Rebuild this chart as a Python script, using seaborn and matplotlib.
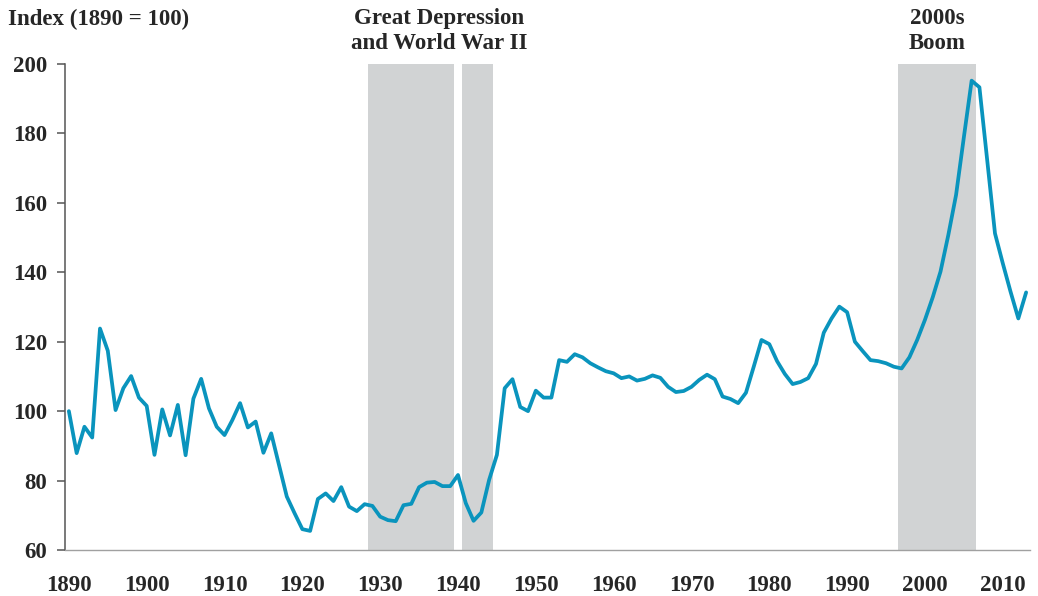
import numpy as np
import pandas as pd
import matplotlib
matplotlib.use("Agg")
import matplotlib.pyplot as plt
import seaborn as sns

years = list(range(1890, 2014))
index_values = [
    100.0, 87.9, 95.5, 92.4, 123.8, 117.4, 100.3, 106.6, 110.1, 103.9,   # 1890s
    101.5, 87.4, 100.5, 93.0, 101.8, 87.3, 103.6, 109.3, 100.8, 95.5,    # 1900s
    93.1, 97.4, 102.3, 95.3, 97.0, 88.0, 93.6, 84.5, 75.4, 70.6,         # 1910s
    66.0, 65.5, 74.7, 76.3, 74.1, 78.1, 72.5, 71.2, 73.2, 72.7,          # 1920s
    69.6, 68.6, 68.3, 72.9, 73.3, 78.1, 79.4, 79.6, 78.4, 78.4,          # 1930s
    81.6, 73.5, 68.4, 70.8, 80.2, 87.4, 106.6, 109.2, 101.2, 100.0,      # 1940s
    105.9, 103.9, 103.9, 114.7, 114.2, 116.4, 115.5, 113.8, 112.6, 111.5,  # 1950s
    110.9, 109.5, 110.0, 108.8, 109.3, 110.3, 109.6, 107.0, 105.5, 105.8,  # 1960s
    107.0, 109.0, 110.5, 109.2, 104.2, 103.5, 102.3, 105.3, 112.8, 120.5,  # 1970s
    119.3, 114.4, 110.7, 107.8, 108.4, 109.5, 113.6, 122.6, 126.7, 130.1,  # 1980s
    128.5, 120.0, 117.3, 114.7, 114.4, 113.8, 112.8, 112.3, 115.5, 120.5,  # 1990s
    126.3, 132.8, 140.2, 150.7, 162.3, 178.9, 195.2, 193.3, 172.3, 151.2,  # 2000s
    142.6, 134.4, 126.7, 134.2,                                          # 2010s
]

# shaded periods (start, end)
shade_periods = [(1928.5, 1939.5), (1940.5, 1944.5), (1996.5, 2006.5)]
shade_labels = ["Great Depression\nand World War II", "2000s\nBoom"]
label_x = [1937.6, 2001.6]

y_ticks = [60, 80, 100, 120, 140, 160, 180, 200]
x_labels = list(range(1890, 2011, 10))

df = pd.DataFrame({"year": years, "index": index_values})

sns.set_style("white")
plt.rcParams["font.family"] = ["Liberation Serif", "DejaVu Serif"]
plt.rcParams["font.weight"] = "bold"
fs = 16.5

fig = plt.figure(figsize=(10.38, 5.96), dpi=100)
ax = fig.add_axes([0.0626, 0.0772, 0.9297, 0.8154])

for start, end in shade_periods:
    ax.axvspan(start, end, color="#d1d3d4", lw=0, zorder=0)

sns.lineplot(data=df, x="year", y="index", ax=ax, color="#0a94bd", lw=2.7, zorder=3)

ax.set_xlim(1889.5, 2013.5)
ax.set_ylim(60, 200)
ax.set_yticks(y_ticks)
ax.set_xticks(x_labels)
ax.set_xticks(np.arange(1889.5, 2014, 1), minor=True)
ax.tick_params(axis="x", which="major", length=0, pad=18, labelsize=fs)
ax.tick_params(axis="x", which="minor", length=5, width=0.9, color="#a0a0a0")
ax.tick_params(axis="y", which="major", length=6, width=1.1, color="#555555",
               pad=7, labelsize=fs, left=True)
for lab in ax.get_xticklabels() + ax.get_yticklabels():
    lab.set_fontweight("bold")

ax.set_xlabel("")
ax.set_ylabel("")
for side in ["top", "right"]:
    ax.spines[side].set_visible(False)
ax.spines["left"].set_color("#555555")
ax.spines["left"].set_linewidth(1.1)
ax.spines["bottom"].set_color("#a0a0a0")
ax.spines["bottom"].set_linewidth(1.0)

fig.text(8 / 1038, 1 - 19 / 596, "Index (1890 = 100)", fontsize=fs,
         fontweight="bold", va="center", ha="left")
for txt, xl in zip(shade_labels, label_x):
    xf = ax.transData.transform((xl, 0))[0] / fig.bbox.width
    fig.text(xf, 1 - 31 / 596, txt, ha="center", va="center", fontsize=fs,
             fontweight="bold", linespacing=1.25)

fig.savefig("out.png", dpi=100)
